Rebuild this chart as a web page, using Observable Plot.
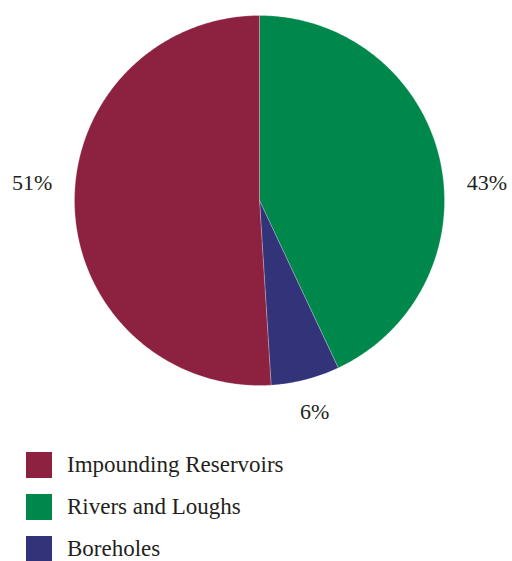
<!DOCTYPE html>
<html>
<head>
<meta charset="utf-8">
<script src="https://cdn.jsdelivr.net/npm/d3@7"></script>
<script src="https://cdn.jsdelivr.net/npm/@observablehq/plot@0.6"></script>
<style>
  body { margin: 0; background: #fff; font-family: 'Liberation Serif', serif; color: #231f20; }
  #legend { position: absolute; left: 26px; top: 452px; font-family: 'Liberation Serif', serif; }
  .row { display: flex; align-items: center; height: 26px; margin-bottom: 16px; font-size: 23px; }
  .sw { width: 26px; height: 26px; margin-right: 15px; flex: none; }
</style>
</head>
<body>
<div id="chart"></div>
<div id="legend"></div>
<script>
// Data (legend order)
const categories = ["Impounding Reservoirs", "Rivers and Loughs", "Boreholes"];
const values = [51, 43, 6];
const colors = ["#8c2140", "#00874b", "#33337a"];
// Pie drawing order, clockwise from 12 o'clock
const pieOrder = ["Rivers and Loughs", "Boreholes", "Impounding Reservoirs"];

const W = 512, H = 440, R = 185, cx = 259, cy = 200;

const rows = pieOrder.map(c => ({cat: c, value: values[categories.indexOf(c)]}));
const arcs = d3.pie().sort(null).value(d => d.value)(rows);

// polygon points for each slice (unit radius)
const pts = [];
for (const a of arcs) {
  pts.push({cat: a.data.cat, x: 0, y: 0});
  const n = Math.max(2, Math.ceil((a.endAngle - a.startAngle) / (Math.PI / 360)));
  for (let i = 0; i <= n; i++) {
    const t = a.startAngle + (a.endAngle - a.startAngle) * i / n;
    pts.push({cat: a.data.cat, x: Math.sin(t), y: Math.cos(t)});
  }
  pts.push({cat: a.data.cat, x: 0, y: 0});
}

// labels
const labels = arcs.map(a => {
  const m = (a.startAngle + a.endAngle) / 2;
  const s = Math.sin(m), c = Math.cos(m);
  const side = Math.abs(s) > 0.9;
  return {
    text: a.data.value + "%",
    x: side ? Math.sign(s) * 1.12 : 1.2 * s,
    y: side ? 0 : 1.18 * c,
    anchor: side ? (s > 0 ? "start" : "end") : "middle"
  };
});

const font = "'Liberation Serif', serif";
const chart = Plot.plot({
  width: W,
  height: H,
  margin: 0,
  x: {domain: [-cx / R, (W - cx) / R], range: [0, W], axis: null},
  y: {domain: [-(H - cy) / R, cy / R], range: [H, 0], axis: null},
  color: {domain: categories, range: colors},
  style: {fontFamily: font},
  marks: [
    Plot.line(pts, {x: "x", y: "y", z: "cat", fill: "cat", stroke: "#ffffff", strokeWidth: 0.6, strokeOpacity: 0.4, curve: "linear"}),
    Plot.text(labels.filter(d => d.anchor === "start"), {x: "x", y: "y", text: "text", textAnchor: "start", dy: -18, fontSize: 22, fontFamily: font, fill: "#231f20"}),
    Plot.text(labels.filter(d => d.anchor === "end"), {x: "x", y: "y", text: "text", textAnchor: "end", dy: -18, fontSize: 22, fontFamily: font, fill: "#231f20"}),
    Plot.text(labels.filter(d => d.anchor === "middle"), {x: "x", y: "y", text: "text", textAnchor: "middle", dy: 0, fontSize: 22, fontFamily: font, fill: "#231f20"})
  ]
});
document.getElementById("chart").appendChild(chart);

const legend = document.getElementById("legend");
categories.forEach((c, i) => {
  const row = document.createElement("div");
  row.className = "row";
  const sw = document.createElement("span");
  sw.className = "sw";
  sw.style.background = colors[i];
  const tx = document.createElement("span");
  tx.textContent = c;
  row.appendChild(sw);
  row.appendChild(tx);
  legend.appendChild(row);
});
</script>
</body>
</html>
